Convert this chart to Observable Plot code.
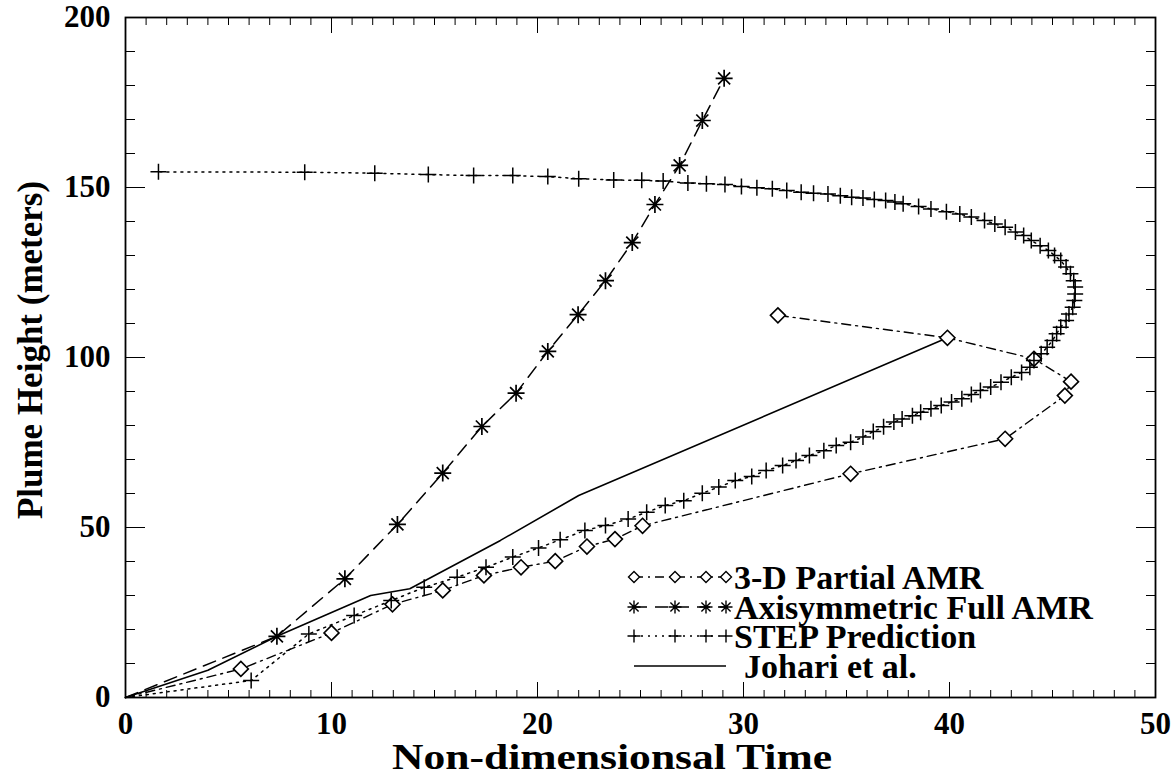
<!DOCTYPE html>
<html>
<head>
<meta charset="utf-8">
<script src="https://cdn.jsdelivr.net/npm/d3@7"></script>
<script src="https://cdn.jsdelivr.net/npm/@observablehq/plot@0.6"></script>
<style>
  html, body { margin: 0; padding: 0; background: #fff; }
  #wrap { position: relative; width: 1175px; height: 778px; }
  #wrap svg { position: absolute; left: 0; top: 0; }
</style>
</head>
<body>
<div id="wrap"></div>
<script>
// ---- Data ----
const seriesNames = ["3-D Partial AMR", "Axisymmetric Full AMR", "STEP Prediction", "Johari et al."];
const xTitle = "Non-dimensionsal Time";
const yTitle = "Plume Height (meters)";

const partialX = [0, 5.6, 10.0, 12.96, 15.4, 17.4, 19.2, 20.86, 22.4, 23.76, 25.1, 35.2, 42.7, 45.6, 45.9, 44.1, 39.9, 31.67];
const partialY = [0, 8.4, 19.0, 27.4, 31.5, 35.9, 38.3, 40.1, 44.4, 46.6, 50.5, 65.8, 76.1, 88.8, 92.9, 99.6, 105.8, 112.4];

const axiX = [0, 7.35, 10.65, 13.2, 15.4, 17.3, 18.96, 20.5, 21.97, 23.3, 24.6, 25.7, 26.9, 28.0, 29.06];
const axiY = [0, 18.0, 34.9, 50.9, 66.0, 79.7, 89.5, 101.8, 112.6, 122.6, 133.8, 145.0, 156.5, 169.7, 182.1];

const stepX = [0, 6.1, 8.9, 11.1, 12.9, 14.5, 16.1, 17.5, 18.8, 20.05, 21.1, 22.3, 23.3, 24.4, 25.3, 26.2, 27.1, 28.0, 28.8, 29.6,
  30.4, 31.1, 31.9, 32.55, 33.2, 33.9, 34.5, 35.2, 35.8, 36.3, 36.8, 37.3, 37.7, 38.2, 38.6, 39.1, 39.6, 40.1, 40.6, 41.06,
  41.5, 42.0, 42.5, 43.0, 43.5, 43.9, 44.1, 44.45, 44.74, 45.0, 45.2, 45.4, 45.66, 45.8, 45.98, 46.06, 46.1, 46.1, 46.03, 45.87,
  45.66, 45.4, 45.1, 44.8, 44.4, 43.97, 43.6, 43.2, 42.7, 42.2, 41.7, 41.06, 40.5, 39.85, 39.1, 38.5, 37.75, 37.35, 36.9, 36.35,
  35.8, 35.25, 34.7, 34.1, 33.4, 32.8, 32.1, 31.4, 30.65, 29.9, 29.1, 28.2, 27.3, 26.1, 25.06, 23.7, 22.0, 20.5, 18.8, 16.9,
  14.7, 12.1, 8.7, 1.6];
const stepY = [0, 5.0, 18.7, 24.1, 28.5, 32.4, 35.4, 38.3, 41.3, 44.0, 46.4, 49.1, 50.6, 52.5, 54.5, 56.5, 57.9, 60.1, 61.9, 63.8,
  65.0, 66.8, 68.2, 69.7, 71.2, 72.6, 74.1, 75.1, 76.6, 78.2, 79.6, 81.0, 81.9, 82.9, 83.9, 84.9, 85.9, 86.9, 87.9, 89.1,
  90.3, 91.3, 92.7, 94.2, 95.6, 97.1, 99.1, 101.1, 103.0, 105.0, 107.0, 108.9, 110.9, 112.8, 114.8, 116.8, 118.7, 120.7, 122.6, 124.6,
  126.6, 128.5, 130.0, 131.5, 132.9, 134.4, 135.9, 136.9, 138.3, 139.3, 140.3, 141.3, 142.2, 142.9, 143.7, 144.4, 145.2, 145.7, 146.2, 146.5,
  146.9, 147.1, 147.6, 148.1, 148.3, 148.6, 149.1, 149.6, 149.9, 150.3, 150.9, 151.1, 151.3, 151.9, 152.1, 152.2, 152.6, 153.2, 153.5, 153.5,
  153.8, 154.2, 154.5, 154.6];

const johariX = [0, 4.0, 7.35, 11.9, 13.8, 18.2, 22.0, 39.9];
const johariY = [0, 8.0, 18.0, 30.0, 32.0, 46.2, 59.4, 105.8];

const xMajor = [0, 10, 20, 30, 40, 50];
const xMinor = d3.range(0, 51, 1);
const yMajor = [0, 50, 100, 150, 200];
const yMinor = d3.range(0, 201, 10);

// ---- helpers ----
const toRows = (xs, ys) => xs.map((x, i) => ({x, y: ys[i]}));
const partial = toRows(partialX, partialY);
const axi = toRows(axiX, axiY);
const step = toRows(stepX, stepY);
const johari = toRows(johariX, johariY);
const noOrigin = rows => rows.filter(d => !(d.x === 0 && d.y === 0));

const asterisk = {
  draw(ctx, size) {
    const r = Math.sqrt(size / Math.PI);
    const d = r * Math.SQRT1_2;
    ctx.moveTo(-r, 0); ctx.lineTo(r, 0);
    ctx.moveTo(0, -r); ctx.lineTo(0, r);
    ctx.moveTo(-d, -d); ctx.lineTo(d, d);
    ctx.moveTo(-d, d); ctx.lineTo(d, -d);
  }
};
const plusSym = {
  draw(ctx, size) {
    const r = Math.sqrt(size / Math.PI);
    ctx.moveTo(-r, 0); ctx.lineTo(r, 0);
    ctx.moveTo(0, -r); ctx.lineTo(0, r);
  }
};
const diamondSym = {
  draw(ctx, size) {
    const r = Math.sqrt(size / Math.PI);
    ctx.moveTo(0, -r); ctx.lineTo(r, 0); ctx.lineTo(0, r); ctx.lineTo(-r, 0); ctx.closePath();
  }
};

const FONT = "'Liberation Serif', 'Times New Roman', serif";
const dashPartial = "9,5,2,5";
const dashAxi = "13,8";
const dashStep = "2,5";

const chart = Plot.plot({
  width: 1175,
  height: 778,
  marginLeft: 125,
  marginRight: 20,
  marginTop: 17,
  marginBottom: 81,
  style: {fontFamily: FONT, background: "#fff", color: "#000"},
  x: {domain: [0, 50], label: null},
  y: {domain: [0, 200], label: null},
  marks: [
    // ticks (inward) on all four sides
    Plot.axisX({anchor: "bottom", ticks: xMinor, tickSize: -7, text: null, label: null}),
    Plot.axisX({anchor: "top", ticks: xMinor, tickSize: -7, text: null, label: null}),
    Plot.axisX({anchor: "top", ticks: xMajor, tickSize: -15, text: null, label: null}),
    Plot.axisX({anchor: "bottom", ticks: xMajor, tickSize: -15, tickPadding: 29,
      tickFormat: d3.format("d"), fontSize: 31, fontWeight: "bold", label: null}),
    Plot.axisY({anchor: "left", ticks: yMinor, tickSize: -10, text: null, label: null}),
    Plot.axisY({anchor: "right", ticks: yMinor, tickSize: -10, text: null, label: null}),
    Plot.axisY({anchor: "right", ticks: yMajor, tickSize: -20, text: null, label: null}),
    Plot.axisY({anchor: "left", ticks: yMajor, tickSize: -20, tickPadding: 35,
      tickFormat: d3.format("d"), fontSize: 31, fontWeight: "bold", label: null}),
    Plot.frame({stroke: "#000", strokeWidth: 1.8}),
    // series lines
    Plot.line(johari, {x: "x", y: "y", stroke: "#000", strokeWidth: 1.6}),
    Plot.line(partial, {x: "x", y: "y", stroke: "#000", strokeWidth: 1.4, strokeDasharray: dashPartial}),
    Plot.line(axi, {x: "x", y: "y", stroke: "#000", strokeWidth: 1.5, strokeDasharray: dashAxi}),
    Plot.line(step, {x: "x", y: "y", stroke: "#000", strokeWidth: 1.5, strokeDasharray: dashStep}),
    // markers
    Plot.dot(noOrigin(partial), {x: "x", y: "y", symbol: diamondSym, r: 7.5, stroke: "#000", fill: "white", strokeWidth: 1.6}),
    Plot.dot(noOrigin(axi), {x: "x", y: "y", symbol: asterisk, r: 8.5, stroke: "#000", strokeWidth: 1.7}),
    Plot.dot(noOrigin(step), {x: "x", y: "y", symbol: plusSym, r: 8, stroke: "#000", strokeWidth: 1.5})
  ]
});

document.getElementById("wrap").appendChild(chart);

// ---- Overlay: axis titles and legend ----
const over = d3.select("#wrap").append("svg")
  .attr("width", 1175).attr("height", 778)
  .style("pointer-events", "none");

over.append("text")
  .attr("x", 612).attr("y", 757).attr("dy", "0.34em")
  .attr("text-anchor", "middle")
  .attr("font-family", FONT).attr("font-weight", "bold").attr("font-size", 36)
  .attr("textLength", 440).attr("lengthAdjust", "spacingAndGlyphs")
  .text(xTitle);

over.append("text")
  .attr("transform", "translate(30,350) rotate(-90)")
  .attr("dy", "0.34em")
  .attr("text-anchor", "middle")
  .attr("font-family", FONT).attr("font-weight", "bold").attr("font-size", 35)
  .text(yTitle);

const symX = [634, 675, 706, 726];
const rowY = [577, 607, 636, 666];
const legendSpecs = [
  {name: seriesNames[0], sym: diamondSym, dash: dashPartial, r: 5.5, fill: "white"},
  {name: seriesNames[1], sym: asterisk, dash: dashAxi, r: 6.5, fill: "none"},
  {name: seriesNames[2], sym: plusSym, dash: dashStep, r: 6.5, fill: "none"},
  {name: seriesNames[3], sym: null, dash: null}
];
legendSpecs.forEach((s, i) => {
  const g = over.append("g").attr("transform", `translate(0,${rowY[i]})`);
  g.append("line")
    .attr("x1", symX[0]).attr("x2", symX[3]).attr("y1", 0).attr("y2", 0)
    .attr("stroke", "#000").attr("stroke-width", 1.5)
    .attr("stroke-dasharray", s.dash);
  if (s.sym) {
    const path = d3.symbol(s.sym, Math.PI * s.r * s.r)();
    symX.forEach(x => g.append("path").attr("d", path).attr("transform", `translate(${x},0)`)
      .attr("stroke", "#000").attr("stroke-width", 1.4).attr("fill", s.fill));
  }
  g.append("text").attr("x", s.sym ? 734 : 744).attr("y", 0).attr("dy", "0.34em")
    .attr("font-family", FONT).attr("font-weight", "bold").attr("font-size", 34)
    .text(s.name);
});
</script>
</body>
</html>
